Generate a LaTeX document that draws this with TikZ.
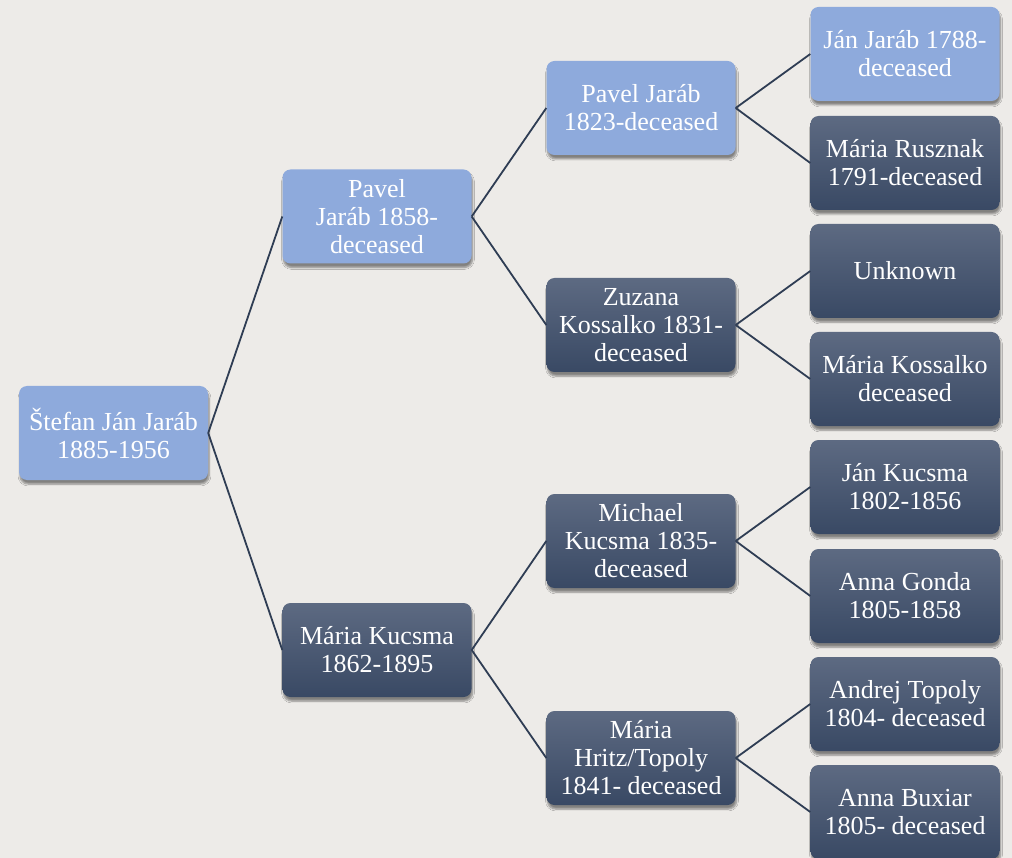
\documentclass[tikz,border=0pt]{standalone}
\usepackage{fontspec}
\setmainfont{Liberation Serif}
\usetikzlibrary{shadows.blur}
\definecolor{pagebg}{HTML}{EDEBE8}
\definecolor{lightbox}{HTML}{8EAADC}
\definecolor{darktop}{HTML}{5D6A82}
\definecolor{darkbot}{HTML}{394964}
\definecolor{linkcol}{HTML}{2F3D54}
\tikzset{
  person/.style={rounded corners=8pt, minimum width=189pt, minimum height=94pt,
    inner sep=2pt, align=center, text=white, font=\fontsize{26}{28}\selectfont,
    blur shadow={shadow xshift=1pt, shadow yshift=-4pt, shadow blur steps=6, shadow opacity=45}},
  known/.style={person, fill=lightbox},
  other/.style={person, top color=darktop, bottom color=darkbot},
  link/.style={draw=linkcol, line width=1.8pt}
}
\begin{document}
\begin{tikzpicture}[x=1pt,y=-1pt]
  \fill[pagebg] (0,0) rectangle (1012,858);
  \useasboundingbox (0,0) rectangle (1012,858);
  % generation 0
  \node[known] (root) at (113.5,433) {Štefan Ján Jaráb\\1885-1956};
  % generation 1
  \node[known] (f) at (377,216.5) {Pavel\\Jaráb 1858-\\deceased};
  \node[other] (m) at (377,650) {Mária Kucsma\\1862-1895};
  % generation 2
  \node[known] (ff) at (641,108) {Pavel Jaráb\\1823-deceased};
  \node[other] (fm) at (641,325) {Zuzana\\Kossalko 1831-\\deceased};
  \node[other] (mf) at (641,541) {Michael\\Kucsma 1835-\\deceased};
  \node[other] (mm) at (641,758) {Mária\\Hritz/Topoly\\1841- deceased};
  % generation 3
  \node[known] (fff) at (905,54) {Ján Jaráb 1788-\\deceased};
  \node[other] (ffm) at (905,163) {Mária Rusznak\\1791-deceased};
  \node[other] (fmf) at (905,271) {Unknown};
  \node[other] (fmm) at (905,379) {Mária Kossalko\\deceased};
  \node[other] (mff) at (905,487) {Ján Kucsma\\1802-1856};
  \node[other] (mfm) at (905,596) {Anna Gonda\\1805-1858};
  \node[other] (mmf) at (905,704) {Andrej Topoly\\1804- deceased};
  \node[other] (mmm) at (905,812) {Anna Buxiar\\1805- deceased};
  % connectors
  \foreach \p/\c in {root/f, root/m, f/ff, f/fm, m/mf, m/mm,
                     ff/fff, ff/ffm, fm/fmf, fm/fmm, mf/mff, mf/mfm, mm/mmf, mm/mmm}
    \draw[link] (\p.east) -- (\c.west);
\end{tikzpicture}
\end{document}
